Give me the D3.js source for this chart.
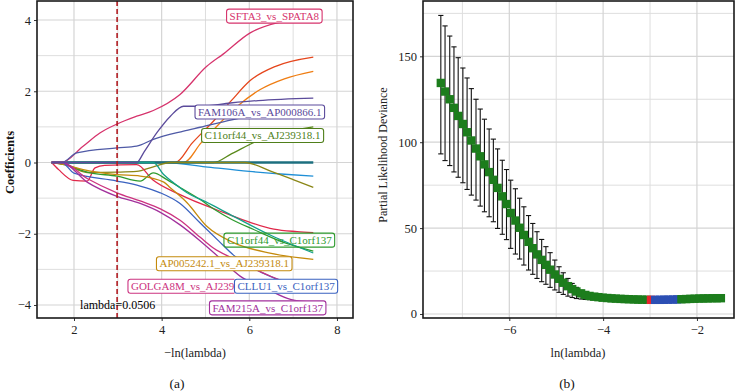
<!DOCTYPE html>
<html><head><meta charset="utf-8">
<script src="https://cdn.jsdelivr.net/npm/d3@7"></script>
<style>
body{margin:0;background:#fff;}
svg{display:block;}
text{font-family:"Liberation Serif","Times New Roman","DejaVu Serif",serif;}
</style></head>
<body><svg id="c" width="736" height="391"></svg>
<script>
// ---------- Panel (a) data: coefficient paths, x = -ln(lambda) ----------
const pathNames = ["orange2","redorange","oliveUp","lightblue","zero","oliveDown","red","green","teal","gold","blue","magenta","purplemag","sfta3","purpleA","purpleB"];
const pathColors = ["#ef7d12","#e5461c","#5b8a1c","#1f8fd6","#1d6f7f","#8a8616","#e0284a","#2e9a2e","#14a08a","#c48a0c","#3a62c0","#cc3380","#a2309c","#d6336c","#4f5aa6","#5b4b9b"];
const pathX = [
 [1.49,4.5,4.9,5.26,5.7,6.25,6.8,7.46],
 [1.49,4.31,4.7,5.18,5.6,6.02,6.6,7.46],
 [1.49,5.18,5.6,6.18,6.8,7.46],
 [1.49,4.1,5.0,6.0,6.8,7.46],
 [1.49,7.46],
 [1.49,1.79,2.3,2.98,3.43,3.81,4.2,5.9,6.5,7.0,7.46],
 [1.49,1.65,1.98,2.3,2.48,2.7,3.43,3.81,4.42,4.88,5.41,6.02,6.56,7.09,7.46],
 [1.49,1.79,2.37,2.98,3.51,3.81,4.12,4.42,4.88,5.18,5.6,6.1,6.8,7.46],
 [1.49,3.81,4.04,4.27,4.58,5.0,5.64,6.5,7.46],
 [1.49,1.75,2.21,2.98,3.51,4.05,4.19,4.58,5.03,5.64,6.5,7.46],
 [1.49,1.72,2.0,2.98,3.51,3.97,4.42,4.88,5.3,5.64,6.3,7.46],
 [1.49,1.72,2.3,2.98,3.51,3.97,4.42,4.88,5.18,5.64,6.5,7.46],
 [1.49,1.72,2.3,2.98,3.51,3.97,4.42,4.88,5.3,5.79,6.4,6.94,7.46],
 [1.49,1.72,2.2,2.59,2.98,3.43,3.81,4.42,5.03,5.41,6.02,6.63,7.46],
 [1.49,1.72,2.06,2.98,3.43,3.81,4.5,4.88,5.6,6.5,7.46],
 [1.49,3.43,3.6,3.9,4.2,4.5,4.9,5.57,6.2,7.46]
];
const pathY = [
 [0,0,0.55,1.02,1.55,2.05,2.35,2.56],
 [0,0,0.55,1.16,1.75,2.3,2.7,2.96],
 [0,0,0.25,0.6,0.85,1.0],
 [0,0,-0.12,-0.25,-0.33,-0.38],
 [0,0],
 [0,-0.05,-0.28,-0.27,-0.25,-0.12,0,0,-0.25,-0.48,-0.7],
 [0,-0.2,-0.5,-0.52,-0.15,-0.08,-0.06,-0.5,-0.9,-1.15,-1.4,-1.68,-1.87,-1.94,-1.97],
 [0,-0.06,-0.29,-0.38,-0.52,-0.29,-0.48,-0.7,-1.04,-1.3,-1.6,-1.88,-2.25,-2.49],
 [0,0,-0.33,-0.57,-0.85,-1.1,-1.51,-2.05,-2.54],
 [0,-0.05,-0.2,-0.34,-0.38,-0.55,-0.7,-1.13,-1.79,-2.25,-2.55,-2.72],
 [0,0,-0.3,-0.52,-0.66,-0.85,-1.15,-1.7,-2.2,-2.6,-3.1,-3.55],
 [0,0,-0.45,-0.85,-1.08,-1.3,-1.62,-2.1,-2.4,-2.7,-3.2,-3.6],
 [0,0,-0.55,-0.95,-1.15,-1.4,-1.75,-2.2,-2.65,-3.19,-3.55,-3.84,-3.92],
 [0,0,0.45,0.83,1.08,1.3,1.46,1.91,2.7,3.05,3.64,3.92,4.05],
 [0,0,0.27,0.41,0.46,0.65,0.88,0.99,1.2,1.4,1.55],
 [0,0,0.3,0.85,1.3,1.58,1.58,1.67,1.74,1.81]
];
const labelTexts = ["SFTA3_vs_SPATA8","FAM106A_vs_AP000866.1","C11orf44_vs_AJ239318.1","C11orf44_vs_C1orf137","AP005242.1_vs_AJ239318.1","GOLGA8M_vs_AJ239318.1","CLLU1_vs_C1orf137","FAM215A_vs_C1orf137"];
const labelColors = ["#d6336c","#5b4b9b","#4f7f1a","#2e9a2e","#c48a0c","#cc3380","#3a62c0","#a2309c"];
const labelX = [5.55,4.83,4.98,5.49,3.95,3.30,5.73,5.16];
const labelY = [4.11,1.42,0.76,-2.18,-2.84,-3.475,-3.475,-4.08];
const lambdaMin = 0.0506;
const xTicksA = [2,4,6,8];
const yTicksA = [-4,-2,0,2,4];

// ---------- Panel (b) data: CV partial likelihood deviance ----------
const lnLambda = [-7.46,-7.37,-7.27,-7.18,-7.09,-6.99,-6.90,-6.81,-6.71,-6.62,-6.53,-6.43,-6.34,-6.25,-6.15,-6.06,-5.97,-5.87,-5.78,-5.69,-5.59,-5.50,-5.41,-5.31,-5.22,-5.13,-5.03,-4.94,-4.85,-4.75,-4.66,-4.57,-4.47,-4.38,-4.29,-4.19,-4.10,-4.01,-3.91,-3.82,-3.73,-3.63,-3.54,-3.45,-3.35,-3.26,-3.17,-3.07,-2.98,-2.89,-2.79,-2.70,-2.61,-2.51,-2.42,-2.33,-2.23,-2.14,-2.05,-1.95,-1.86,-1.77,-1.67,-1.58,-1.49];
const cvMean = [134.5,129.5,125,120,115.3,110.6,105.8,101,96.3,91.8,87.1,82.6,78.1,73.4,68.5,64,58.8,54.4,50.2,46,42,38.3,34.7,31.5,28.6,25.8,23,20.5,18.2,16.2,14.5,13.1,12,11.1,10.5,10.1,9.8,9.5,9.3,9.1,8.95,8.8,8.7,8.6,8.5,8.4,8.35,8.3,8.25,8.25,8.25,8.3,8.35,8.4,8.5,8.6,8.7,8.8,8.9,9.0,9.05,9.1,9.15,9.2,9.2];
const cvUpper = [173.8,167.7,161.8,155.5,149.2,143.2,137.4,131.2,125.0,119.3,113.4,107.7,101.8,96.1,89.5,84.1,77.9,72.9,67.4,62.4,57.3,52.7,47.9,43.4,39.2,35.7,31.4,27.5,24.0,20.7,17.8,15.5,13.8,12.4,11.6,11.1,10.8,10.5,10.3,10.1,9.95,9.8,9.7,9.6,9.5,9.4,9.35,9.3,9.25,9.25,9.25,9.3,9.35,9.4,9.5,9.6,9.7,9.8,9.9,10.0,10.05,10.1,10.15,10.2,10.2];
const cvLower = [93.2,89.3,86.4,82.7,79.6,76.4,72.5,69.2,66.3,62.8,59.5,56.6,53.7,49.8,46.4,43.3,38.2,34.9,32.0,28.5,25.6,23.1,20.7,18.8,17.3,15.5,14.0,12.6,11.4,10.4,9.6,9.0,8.7,8.5,8.3,8.2,8.0,7.9,7.8,7.7,7.6,7.5,7.45,7.4,7.3,7.2,7.15,7.1,7.05,7.05,7.05,7.1,7.15,7.2,7.3,7.4,7.5,7.6,7.7,7.8,7.85,7.9,7.95,8.0,8.0];
const pointGroup = ["g","g","g","g","g","g","g","g","g","g","g","g","g","g","g","g","g","g","g","g","g","g","g","g","g","g","g","g","g","g","g","g","g","g","g","g","g","g","g","g","g","g","g","g","g","g","g","g","r","b","b","b","b","b","b","g","g","g","g","g","g","g","g","g","g"];
const groupColor = {g:"#1c7d1c", r:"#e8232d", b:"#2c4fb4"};
const xTicksB = [-6,-4,-2];
const yTicksB = [0,50,100,150];

const svg = d3.select("#c");
const fmt = d => (d < 0 ? "\u2212" + Math.abs(d) : "" + d);

function frame(g, x, y, xMinor, yMinor, xTicks, yTicks) {
  const [x0, x1] = x.range(), [y0, y1] = y.range();
  g.append("rect").attr("x", x0).attr("y", y1).attr("width", x1 - x0).attr("height", y0 - y1).attr("fill", "#fff");
  g.selectAll(".vmin").data(xMinor).join("line").attr("x1", d => x(d)).attr("x2", d => x(d)).attr("y1", y1).attr("y2", y0).attr("stroke", "#dedede").attr("stroke-width", 1);
  g.selectAll(".hmin").data(yMinor).join("line").attr("y1", d => y(d)).attr("y2", d => y(d)).attr("x1", x0).attr("x2", x1).attr("stroke", "#dedede").attr("stroke-width", 1);
  g.selectAll(".vmaj").data(xTicks).join("line").attr("x1", d => x(d)).attr("x2", d => x(d)).attr("y1", y1).attr("y2", y0).attr("stroke", "#d4d4d4").attr("stroke-width", 1.2);
  g.selectAll(".hmaj").data(yTicks).join("line").attr("y1", d => y(d)).attr("y2", d => y(d)).attr("x1", x0).attr("x2", x1).attr("stroke", "#d4d4d4").attr("stroke-width", 1.2);
}
function axes(g, x, y, xTicks, yTicks) {
  const [x0, x1] = x.range(), [y0, y1] = y.range();
  const ax = g.append("g").attr("transform", `translate(0,${y0})`).call(d3.axisBottom(x).tickValues(xTicks).tickFormat(fmt).tickSize(3).tickPadding(4));
  const ay = g.append("g").attr("transform", `translate(${x0},0)`).call(d3.axisLeft(y).tickValues(yTicks).tickFormat(fmt).tickSize(3).tickPadding(3));
  [ax, ay].forEach(a => {
    a.attr("font-family", null);
    a.select(".domain").remove();
    a.selectAll("text").attr("font-size", 12.5).attr("fill", "#222");
    a.selectAll("line").attr("stroke", "#333");
  });
  g.append("rect").attr("x", x0).attr("y", y1).attr("width", x1 - x0).attr("height", y0 - y1).attr("fill", "none").attr("stroke", "#1a1a1a").attr("stroke-width", 1.6);
}

// ---------- Panel (a) ----------
const xA = d3.scaleLinear().domain([1.156, 8.366]).range([37, 353]);
const yA = d3.scaleLinear().domain([-4.365, 4.534]).range([318, 1]);
const gA = svg.append("g");
frame(gA, xA, yA, [3,5,7], [-3,-1,1,3], xTicksA, yTicksA);
const line = d3.line().x(d => xA(d[0])).y(d => yA(d[1])).curve(d3.curveMonotoneX);
pathNames.forEach((n, i) => {
  const pts = pathX[i].map((v, j) => [v, pathY[i][j]]);
  gA.append("path").attr("d", line(pts)).attr("fill", "none").attr("stroke", pathColors[i])
    .attr("stroke-width", n === "zero" ? 2.6 : 1.3).attr("stroke-linejoin", "round");
});
gA.append("line").attr("x1", xA(-Math.log(lambdaMin))).attr("x2", xA(-Math.log(lambdaMin)))
  .attr("y1", yA.range()[1]).attr("y2", yA.range()[0]).attr("stroke", "#b01c22").attr("stroke-width", 1.6).attr("stroke-dasharray", "5,3");
gA.append("text").attr("x", xA(-Math.log(lambdaMin)) - 37).attr("y", yA(-4) + 4).attr("font-size", 12).attr("fill", "#000")
  .text("lambda=" + lambdaMin);
svg.append("defs").append("clipPath").attr("id", "golgaClip").append("rect")
  .attr("x", 0).attr("y", 0).attr("width", xA(labelX[6]) - 3).attr("height", 391);
labelTexts.forEach((t, i) => {
  const lg = gA.append("g");
  const tx = lg.append("text").attr("x", xA(labelX[i])).attr("y", yA(labelY[i])).attr("dy", "0.34em")
    .attr("font-size", 11).attr("fill", labelColors[i]).text(t);
  const w = tx.node().getComputedTextLength();
  lg.insert("rect", "text").attr("x", xA(labelX[i]) - 3).attr("y", yA(labelY[i]) - 7).attr("width", w + 6).attr("height", 14)
    .attr("rx", 2.5).attr("fill", "#fff").attr("fill-opacity", i === 3 ? 0 : 1).attr("stroke", labelColors[i]).attr("stroke-width", 1.1);
  if (i === 5) lg.attr("clip-path", "url(#golgaClip)");
});
axes(gA, xA, yA, xTicksA, yTicksA);
svg.append("text").attr("transform", `translate(14,${yA(0)}) rotate(-90)`).attr("text-anchor", "middle")
  .attr("font-size", 12.5).attr("font-weight", "bold").attr("fill", "#111").text("Coefficients");
svg.append("text").attr("x", 195).attr("y", 357).attr("text-anchor", "middle").attr("font-size", 12.5).attr("fill", "#222").text("\u2212ln(lambda)");
svg.append("text").attr("x", 177).attr("y", 388).attr("text-anchor", "middle").attr("font-size", 13.5).attr("fill", "#111").text("(a)");

// ---------- Panel (b) ----------
const xB = d3.scaleLinear().domain([-7.84, -1.21]).range([423, 734]);
const yB = d3.scaleLinear().domain([-2.33, 182.2]).range([318, 1]);
const gB = svg.append("g");
frame(gB, xB, yB, [-7,-5,-3], [25,75,125,175], xTicksB, yTicksB);
const pts = lnLambda.map((v, i) => ({x: v, m: cvMean[i], u: cvUpper[i], l: cvLower[i], g: pointGroup[i]}));
const eb = gB.append("g").attr("stroke", "#111").attr("stroke-width", 1.1);
eb.selectAll(".v").data(pts).join("line").attr("x1", d => xB(d.x)).attr("x2", d => xB(d.x)).attr("y1", d => yB(d.u)).attr("y2", d => yB(d.l));
eb.selectAll(".t").data(pts).join("line").attr("x1", d => xB(d.x) - 2.6).attr("x2", d => xB(d.x) + 2.6).attr("y1", d => yB(d.u)).attr("y2", d => yB(d.u));
eb.selectAll(".b").data(pts).join("line").attr("x1", d => xB(d.x) - 2.6).attr("x2", d => xB(d.x) + 2.6).attr("y1", d => yB(d.l)).attr("y2", d => yB(d.l));
gB.selectAll(".pt").data(pts).join("rect").attr("x", d => xB(d.x) - 4.2).attr("y", d => yB(d.m) - 4.2)
  .attr("width", 8.4).attr("height", 8.4).attr("fill", d => groupColor[d.g]);
axes(gB, xB, yB, xTicksB, yTicksB);
svg.append("text").attr("transform", `translate(387,${yB(92.5)}) rotate(-90)`).attr("text-anchor", "middle")
  .attr("font-size", 12).attr("fill", "#222").text("Partial Likelihood Deviance");
svg.append("text").attr("x", 578).attr("y", 357).attr("text-anchor", "middle").attr("font-size", 12.5).attr("fill", "#222").text("ln(lambda)");
svg.append("text").attr("x", 567).attr("y", 388).attr("text-anchor", "middle").attr("font-size", 13.5).attr("fill", "#111").text("(b)");
</script></body></html>
